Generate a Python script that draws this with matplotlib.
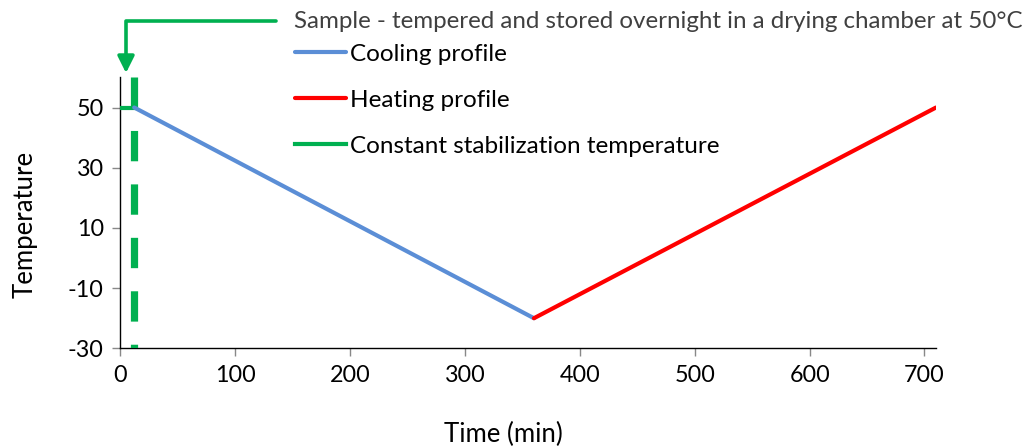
import matplotlib.pyplot as plt
import matplotlib.patheffects as pe

plt.rcParams['font.family'] = ['Lato', 'DejaVu Sans']
plt.rcParams['axes.unicode_minus'] = False

# Data
stab_time = [0, 12]
stab_temp = [50, 50]
cool_time = [12, 360]
cool_temp = [50, -20]
heat_time = [360, 710]
heat_temp = [-20, 50]
marker_time = [12, 12]
marker_temp = [60, -30]
x_ticks = [0, 100, 200, 300, 400, 500, 600, 700]
y_ticks = [-30, -10, 10, 30, 50]

blue = '#5B8ED6'
red = '#FF0000'
green = '#00B050'

fig = plt.figure(figsize=(10.34, 4.46), dpi=100)
ax = fig.add_axes([0.1165, 0.219, 0.7887, 0.6074])

# dashed marker line with a soft shadow
ax.plot(marker_time, marker_temp, color=green, lw=5.2, dashes=(4.2, 3.2),
        solid_capstyle='butt', dash_capstyle='butt', zorder=3,
        path_effects=[pe.SimplePatchShadow(offset=(1.5, -1.5), alpha=0.25),
                      pe.Normal()])
ax.plot(stab_time, stab_temp, color=green, lw=3, zorder=4,
        label='Constant stabilization temperature')
ax.plot(cool_time, cool_temp, color=blue, lw=3, zorder=4, label='Cooling profile',
        solid_capstyle='round')
ax.plot(heat_time, heat_temp, color=red, lw=3, zorder=4, label='Heating profile',
        solid_capstyle='round')

ax.set_xlim(0, 710)
ax.set_ylim(-30, 60)
ax.set_xticks(x_ticks)
ax.set_yticks(y_ticks)
ax.spines['top'].set_visible(False)
ax.spines['right'].set_visible(False)
ax.spines['left'].set_linewidth(1)
ax.spines['bottom'].set_linewidth(1)
ax.tick_params(axis='both', direction='out', length=6, width=1, color='#888888',
               labelsize=16.8, pad=6)
ax.set_xlabel('Time (min)', fontsize=18.5, labelpad=26)
ax.set_ylabel('Temperature', fontsize=18.5, labelpad=22)
ax.xaxis.label.set_x(0.469)
ax.yaxis.label.set_y(0.459)

handles, labels = ax.get_legend_handles_labels()
order = [1, 2, 0]
ax.legend([handles[i] for i in order], [labels[i] for i in order],
          loc='upper left', bbox_to_anchor=(0.2853, 0.9014), bbox_transform=fig.transFigure,
          frameon=False, fontsize=17.5, handlelength=2.1, handletextpad=0.15,
          labelspacing=1.02, borderaxespad=0, borderpad=0)

# annotation with elbow arrow
fig.text(294, 446 - 22, 'Sample - tempered and stored overnight in a drying chamber at 50°C',
         transform=None, fontsize=17.4, color='#404040', va='center', ha='left')
ax.annotate('', xy=(126, 446 - 73), xycoords='figure pixels',
            xytext=(276, 446 - 21), textcoords='figure pixels',
            arrowprops=dict(arrowstyle='-|>,head_length=0.5,head_width=0.25',
                            connectionstyle='angle,angleA=0,angleB=90,rad=0',
                            color=green, lw=2.6, shrinkA=0, shrinkB=0,
                            mutation_scale=20),
            annotation_clip=False)

fig.savefig('out.png', dpi=100)
